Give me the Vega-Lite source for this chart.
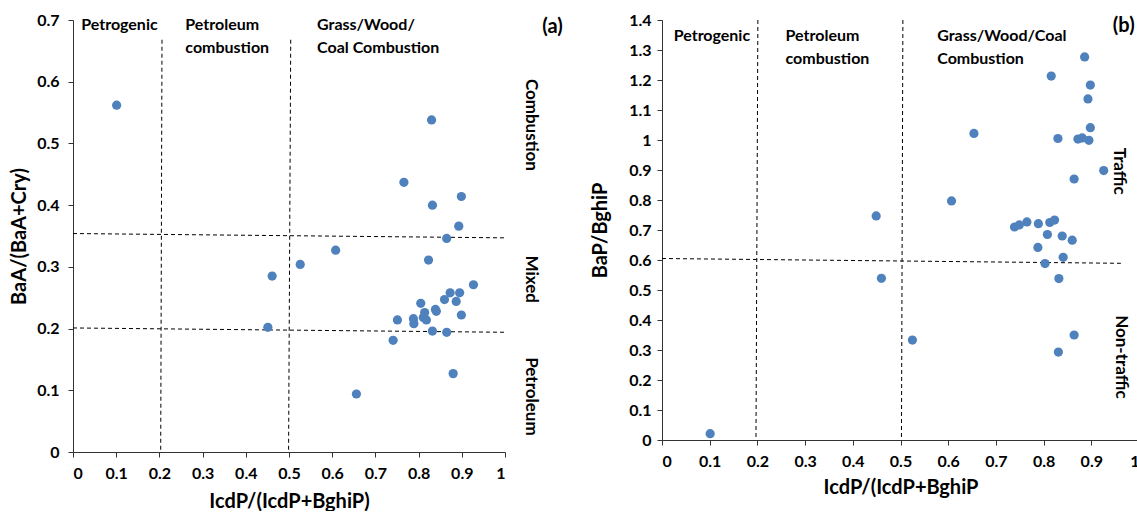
{
  "$schema": "https://vega.github.io/schema/vega-lite/v6.json",
  "padding": {"left": 9, "top": 12, "right": 0, "bottom": 0},
  "spacing": 27,
  "config": {
    "view": {"stroke": null},
    "font": "Lato",
    "axis": {
      "grid": false,
      "domainColor": "#333333",
      "tickColor": "#333333",
      "tickSize": 5,
      "labelFont": "Lato",
      "labelFontWeight": "bold",
      "labelFontSize": 16,
      "labelColor": "#000000",
      "titleFont": "Lato",
      "titleFontWeight": "bold",
      "titleFontSize": 20,
      "titleColor": "#000000",
      "format": "~g"
    },
    "text": {"font": "Lato", "fontWeight": "bold", "color": "#000000"}
  },
  "datasets": {
    "ptsA": [
      {"x": 0.101, "y": 0.562}, {"x": 0.830, "y": 0.538}, {"x": 0.766, "y": 0.437}, {"x": 0.899, "y": 0.414},
      {"x": 0.832, "y": 0.400}, {"x": 0.893, "y": 0.366}, {"x": 0.865, "y": 0.346}, {"x": 0.608, "y": 0.327},
      {"x": 0.526, "y": 0.304}, {"x": 0.461, "y": 0.285}, {"x": 0.823, "y": 0.311}, {"x": 0.927, "y": 0.271},
      {"x": 0.873, "y": 0.258}, {"x": 0.895, "y": 0.258}, {"x": 0.860, "y": 0.247}, {"x": 0.887, "y": 0.244},
      {"x": 0.805, "y": 0.241}, {"x": 0.839, "y": 0.231}, {"x": 0.841, "y": 0.228}, {"x": 0.814, "y": 0.226},
      {"x": 0.899, "y": 0.222}, {"x": 0.751, "y": 0.214}, {"x": 0.788, "y": 0.216}, {"x": 0.789, "y": 0.208},
      {"x": 0.811, "y": 0.218}, {"x": 0.818, "y": 0.214}, {"x": 0.832, "y": 0.196}, {"x": 0.865, "y": 0.194},
      {"x": 0.741, "y": 0.181}, {"x": 0.880, "y": 0.127}, {"x": 0.656, "y": 0.094}, {"x": 0.451, "y": 0.202}
    ],
    "ptsB": [
      {"x": 0.886, "y": 1.277}, {"x": 0.816, "y": 1.213}, {"x": 0.898, "y": 1.183}, {"x": 0.893, "y": 1.137},
      {"x": 0.654, "y": 1.022}, {"x": 0.898, "y": 1.041}, {"x": 0.830, "y": 1.005}, {"x": 0.872, "y": 1.003},
      {"x": 0.881, "y": 1.007}, {"x": 0.895, "y": 0.999}, {"x": 0.926, "y": 0.898}, {"x": 0.864, "y": 0.870},
      {"x": 0.607, "y": 0.797}, {"x": 0.739, "y": 0.710}, {"x": 0.749, "y": 0.717}, {"x": 0.765, "y": 0.727},
      {"x": 0.789, "y": 0.721}, {"x": 0.813, "y": 0.725}, {"x": 0.823, "y": 0.733}, {"x": 0.808, "y": 0.685},
      {"x": 0.839, "y": 0.680}, {"x": 0.860, "y": 0.666}, {"x": 0.788, "y": 0.642}, {"x": 0.841, "y": 0.609},
      {"x": 0.803, "y": 0.588}, {"x": 0.832, "y": 0.538}, {"x": 0.525, "y": 0.333}, {"x": 0.864, "y": 0.350},
      {"x": 0.831, "y": 0.293}, {"x": 0.449, "y": 0.747}, {"x": 0.460, "y": 0.539}, {"x": 0.101, "y": 0.021}
    ],
    "linesA": [
      {"x": 0.206, "y": 0.668, "x2": 0.203, "y2": 0},
      {"x": 0.504, "y": 0.668, "x2": 0.499, "y2": 0},
      {"x": 0, "y": 0.354, "x2": 1, "y2": 0.347},
      {"x": 0, "y": 0.201, "x2": 1, "y2": 0.194}
    ],
    "linesB": [
      {"x": 0.201, "y": 1.4, "x2": 0.197, "y2": 0},
      {"x": 0.505, "y": 1.4, "x2": 0.502, "y2": 0},
      {"x": 0, "y": 0.605, "x2": 0.962, "y2": 0.589}
    ],
    "topA": [
      {"x": 0.019, "y": 0.692, "t": "Petrogenic"},
      {"x": 0.26, "y": 0.692, "t": "Petroleum"},
      {"x": 0.26, "y": 0.654, "t": "combustion"},
      {"x": 0.565, "y": 0.692, "t": "Grass/Wood/"},
      {"x": 0.565, "y": 0.654, "t": "Coal Combustion"}
    ],
    "sideA": [
      {"x": 1.06, "y": 0.53, "t": "Combustion"},
      {"x": 1.06, "y": 0.28, "t": "Mixed"},
      {"x": 1.06, "y": 0.09, "t": "Petroleum"}
    ],
    "tagA": [{"x": 1.11, "y": 0.688, "t": "(a)"}],
    "topB": [
      {"x": 0.0245, "y": 1.347, "t": "Petrogenic"},
      {"x": 0.259, "y": 1.347, "t": "Petroleum"},
      {"x": 0.259, "y": 1.27, "t": "combustion"},
      {"x": 0.577, "y": 1.347, "t": "Grass/Wood/Coal"},
      {"x": 0.577, "y": 1.27, "t": "Combustion"}
    ],
    "sideB": [
      {"x": 0.958, "y": 0.896, "t": "Traffic"},
      {"x": 0.962, "y": 0.277, "t": "Non-traffic"}
    ],
    "tagB": [{"x": 0.968, "y": 1.38, "t": "(b)"}]
  },
  "hconcat": [
    {
      "width": 432,
      "height": 432,
      "encoding": {
        "x": {"field": "x", "type": "quantitative",
              "scale": {"domain": [0, 1], "nice": false},
              "axis": {"title": "IcdP/(IcdP+BghiP)", "values": [0, 0.1, 0.2, 0.3, 0.4, 0.5, 0.6, 0.7, 0.8, 0.9, 1], "labelPadding": 8, "titlePadding": 10}},
        "y": {"field": "y", "type": "quantitative",
              "scale": {"domain": [0, 0.7], "nice": false},
              "axis": {"title": "BaA/(BaA+Cry)", "values": [0, 0.1, 0.2, 0.3, 0.4, 0.5, 0.6, 0.7], "labelPadding": 9, "titlePadding": 7}}
      },
      "layer": [
        {"data": {"name": "linesA"}, "mark": {"type": "rule", "color": "#000000", "strokeDash": [4, 3], "strokeWidth": 1},
         "encoding": {"x2": {"field": "x2"}, "y2": {"field": "y2"}}},
        {"data": {"name": "ptsA"}, "mark": {"type": "point", "filled": true, "size": 85, "opacity": 1, "color": "#4F81BD"}},
        {"data": {"name": "topA"}, "mark": {"type": "text", "align": "left", "baseline": "middle", "fontSize": 16},
         "encoding": {"text": {"field": "t"}}},
        {"data": {"name": "sideA"}, "mark": {"type": "text", "align": "center", "baseline": "middle", "fontSize": 17, "angle": 90},
         "encoding": {"text": {"field": "t"}}},
        {"data": {"name": "tagA"}, "mark": {"type": "text", "align": "center", "baseline": "middle", "fontSize": 20},
         "encoding": {"text": {"field": "t"}}}
      ]
    },
    {
      "width": 477,
      "height": 420,
      "encoding": {
        "x": {"field": "x", "type": "quantitative",
              "scale": {"domain": [0, 1], "nice": false},
              "axis": {"title": "IcdP/(IcdP+BghiP", "values": [0, 0.1, 0.2, 0.3, 0.4, 0.5, 0.6, 0.7, 0.8, 0.9, 1], "labelPadding": 8, "titlePadding": 8}},
        "y": {"field": "y", "type": "quantitative",
              "scale": {"domain": [0, 1.4], "nice": false},
              "axis": {"title": "BaP/BghiP", "values": [0, 0.1, 0.2, 0.3, 0.4, 0.5, 0.6, 0.7, 0.8, 0.9, 1, 1.1, 1.2, 1.3, 1.4], "labelPadding": 6, "titlePadding": 18}}
      },
      "layer": [
        {"data": {"name": "linesB"}, "mark": {"type": "rule", "color": "#000000", "strokeDash": [4, 3], "strokeWidth": 1},
         "encoding": {"x2": {"field": "x2"}, "y2": {"field": "y2"}}},
        {"data": {"name": "ptsB"}, "mark": {"type": "point", "filled": true, "size": 85, "opacity": 1, "color": "#4F81BD"}},
        {"data": {"name": "topB"}, "mark": {"type": "text", "align": "left", "baseline": "middle", "fontSize": 16},
         "encoding": {"text": {"field": "t"}}},
        {"data": {"name": "sideB"}, "mark": {"type": "text", "align": "center", "baseline": "middle", "fontSize": 17, "angle": 90},
         "encoding": {"text": {"field": "t"}}},
        {"data": {"name": "tagB"}, "mark": {"type": "text", "align": "center", "baseline": "middle", "fontSize": 20},
         "encoding": {"text": {"field": "t"}}}
      ]
    }
  ]
}
